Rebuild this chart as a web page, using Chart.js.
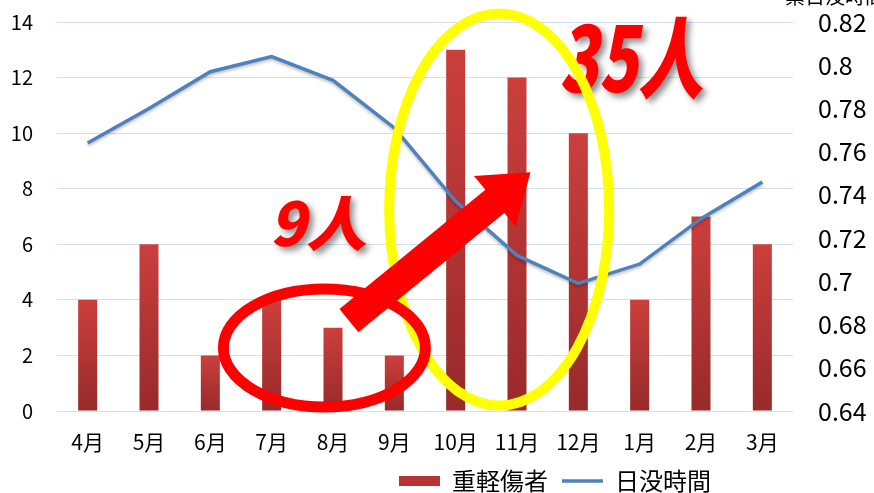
<!DOCTYPE html>
<html>
<head>
<meta charset="utf-8">
<script src="https://cdn.jsdelivr.net/npm/chart.js@4.4.1/dist/chart.umd.min.js"></script>
<style>
  html, body { margin: 0; padding: 0; background: #fff; }
  #wrap { width: 874px; height: 493px; }
</style>
</head>
<body>
<div id="wrap"><canvas id="chart" width="874" height="493"></canvas></div>
<script>
// months (April to March)
const months = ['4月', '5月', '6月', '7月', '8月', '9月', '10月', '11月', '12月', '1月', '2月', '3月'];
// serious / minor injuries per month
const injured = [4, 6, 2, 4, 3, 2, 13, 12, 10, 4, 7, 6];
// sunset time (fraction of a day)
const sunset = [0.764, 0.780, 0.797, 0.804, 0.793, 0.771, 0.737, 0.712, 0.699, 0.708, 0.729, 0.746];

const leftTicks = [0, 2, 4, 6, 8, 10, 12, 14];
const rightTicks = [0.64, 0.66, 0.68, 0.7, 0.72, 0.74, 0.76, 0.78, 0.8, 0.82];

const FONT = "'Noto Sans CJK JP', 'Noto Sans', sans-serif";

// bar gradient, light at the top of each bar, darker at its base
function barFill(c) {
    const chart = c.chart;
    if (!chart.chartArea || c.raw === undefined) return '#b53535';
    const y = chart.scales.y;
    const top = y.getPixelForValue(c.raw);
    const base = y.getPixelForValue(0);
    const g = chart.ctx.createLinearGradient(0, top, 0, base);
    g.addColorStop(0, '#cb3f3c');
    g.addColorStop(1, '#982a2a');
    return g;
}

// hand-drawn looking annotations (positions in axis units)
const annotations = {
    yellow: { i: 6.71, v: 7.25, rx: 110, ry: 196 },
    red: { i: 3.86, v: 2.27, rx: 101, ry: 59 },
    arrowFrom: { i: 4.26, v: 3.25 },
    arrowTo: { i: 7.22, v: 8.59 },
    small: { i: 2.97, v: 5.95, text: '9人' },
    big: { i: 7.69, v: 11.48, text: '35人' }
};

// vertical axes: fixed width, no extra top/bottom reservation
function fixWidth(w) {
    return s => {
        s.width = w;
        s.paddingTop = 0;
        s.paddingBottom = 0;
    };
}

const annotationPlugin = {
    id: 'annotations',
    afterLayout(chart) {
        // let the month labels draw below the axis box
        chart.scales.x.bottom += 24;
        // move the legend right and down like the original
        const lg = chart.legend;
        lg.left += 118;
        lg.right += 118;
        lg.top += 14;
        lg.bottom += 14;
    },
    beforeDatasetDraw(chart, args) {
        if (args.index === 1) {
            const ctx = chart.ctx;
            ctx.save();
            ctx.shadowColor = 'rgba(0,0,0,0.25)';
            ctx.shadowBlur = 3;
            ctx.shadowOffsetY = 2;
        }
    },
    afterDatasetDraw(chart, args) {
        if (args.index === 1) chart.ctx.restore();
    },
    afterDraw(chart) {
        const ctx = chart.ctx;
        const xs = chart.scales.x, ys = chart.scales.y;
        const px = p => [xs.getPixelForValue(p.i), ys.getPixelForValue(p.v)];

        function label(p, size, sx) {
            const [x, y] = px(p);
            ctx.save();
            ctx.translate(x, y);
            ctx.transform(sx, 0, -0.22 * sx, 1, 0, 0);
            ctx.font = '900 ' + size + 'px ' + FONT;
            ctx.textAlign = 'left';
            ctx.textBaseline = 'alphabetic';
            ctx.shadowColor = 'rgba(0,0,0,0.45)';
            ctx.shadowBlur = 6;
            ctx.shadowOffsetX = 4;
            ctx.shadowOffsetY = 4;
            ctx.fillStyle = '#ff0000';
            ctx.fillText(p.text, 0, 0);
            ctx.restore();
        }

        function ellipse(e, color, w) {
            const [x, y] = px(e);
            ctx.save();
            ctx.beginPath();
            ctx.ellipse(x, y, e.rx, e.ry, 0, 0, Math.PI * 2);
            ctx.strokeStyle = color;
            ctx.lineWidth = w;
            ctx.stroke();
            ctx.restore();
        }

        label(annotations.small, 60, 1);
        label(annotations.big, 90, 0.72);
        ellipse(annotations.yellow, '#ffff00', 10);
        ellipse(annotations.red, '#ff0000', 11);

        // thick arrow
        const [x0, y0] = px(annotations.arrowFrom);
        const [x1, y1] = px(annotations.arrowTo);
        const ang = Math.atan2(y1 - y0, x1 - x0);
        const len = Math.hypot(x1 - x0, y1 - y0);
        const shaft = 15, head = 33, headLen = 46;
        ctx.save();
        ctx.translate(x0, y0);
        ctx.rotate(ang);
        ctx.beginPath();
        ctx.moveTo(0, -shaft);
        ctx.lineTo(len - headLen, -shaft);
        ctx.lineTo(len - headLen, -head);
        ctx.lineTo(len, 0);
        ctx.lineTo(len - headLen, head);
        ctx.lineTo(len - headLen, shaft);
        ctx.lineTo(0, shaft);
        ctx.closePath();
        ctx.fillStyle = '#ff0000';
        ctx.fill();
        ctx.restore();

        // right axis title, cut off at the top edge
        ctx.save();
        ctx.font = '20px ' + FONT;
        ctx.fillStyle = '#000';
        ctx.textAlign = 'left';
        ctx.textBaseline = 'middle';
        ctx.fillText('累日没時間', 785, -4);
        ctx.restore();
    }
};

const ctx = document.getElementById('chart').getContext('2d');
const chart = new Chart(ctx, {
    data: {
        labels: months,
        datasets: [{
            type: 'bar',
            label: '重軽傷者',
            data: injured,
            backgroundColor: barFill,
            borderWidth: 0,
            barPercentage: 0.31,
            categoryPercentage: 1,
            yAxisID: 'y',
            order: 2
        }, {
            type: 'line',
            label: '日没時間',
            data: sunset,
            borderColor: '#4f81bd',
            backgroundColor: '#4f81bd',
            borderWidth: 3.5,
            pointRadius: 0,
            tension: 0,
            yAxisID: 'y1',
            order: 1
        }]
    },
    options: {
        responsive: false,
        animation: false,
        layout: { padding: { top: 22, bottom: 4, left: 0, right: 0 } },
        plugins: {
            tooltip: { enabled: false },
            legend: {
                position: 'bottom',
                labels: {
                    usePointStyle: true,
                    pointStyleWidth: 41,
                    boxHeight: 10,
                    padding: 14,
                    color: '#000',
                    font: { family: FONT, size: 24 },
                    sort: (a, b) => a.datasetIndex - b.datasetIndex,
                    generateLabels(chart) {
                        const items = Chart.defaults.plugins.legend.labels.generateLabels(chart);
                        items.forEach(it => {
                            if (it.datasetIndex === 0) {
                                it.pointStyle = 'rect';
                                it.fillStyle = '#b73434';
                                it.lineWidth = 0;
                            } else {
                                it.pointStyle = 'line';
                                it.strokeStyle = '#4f81bd';
                                it.lineWidth = 3.5;
                            }
                        });
                        return items;
                    }
                }
            }
        },
        scales: {
            x: {
                grid: { display: false },
                border: { display: false },
                ticks: {
                    color: '#000',
                    padding: 10,
                    maxRotation: 0,
                    font: { family: FONT, size: 21 }
                },
                afterFit(s) { s.height = 30; }
            },
            y: {
                position: 'left',
                min: 0,
                max: 14,
                afterBuildTicks(s) { s.ticks = leftTicks.map(v => ({ value: v })); },
                grid: { color: '#d3dff0', lineWidth: 1, drawTicks: false },
                border: { display: false },
                ticks: {
                    color: '#000',
                    padding: 24,
                    font: { family: FONT, size: 20 }
                },
                afterFit: fixWidth(57)
            },
            y1: {
                position: 'right',
                min: 0.64,
                max: 0.82,
                afterBuildTicks(s) { s.ticks = rightTicks.map(v => ({ value: v })); },
                grid: { display: false, drawTicks: false },
                border: { display: false },
                ticks: {
                    color: '#000',
                    padding: 25,
                    font: { family: FONT, size: 25 },
                    callback: v => String(Math.round(v * 100) / 100)
                },
                afterFit: fixWidth(81)
            }
        }
    },
    plugins: [annotationPlugin]
});
</script>
</body>
</html>
